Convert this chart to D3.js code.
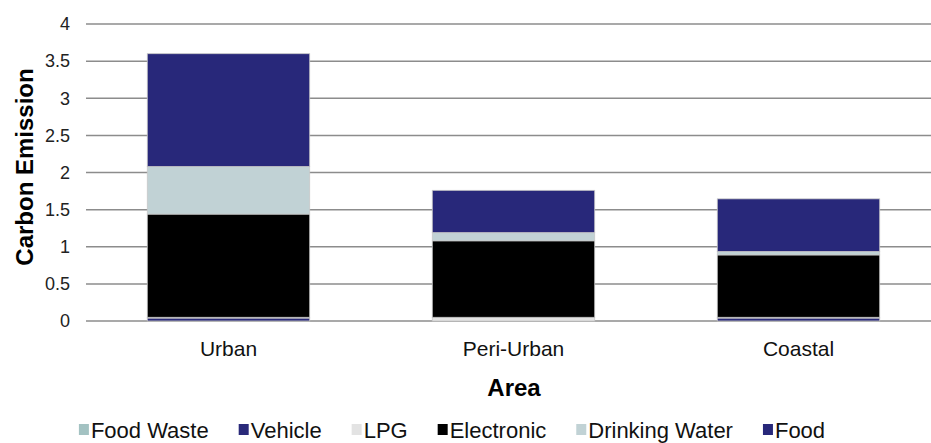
<!DOCTYPE html>
<html lang="en">
<head>
<meta charset="UTF-8"/>
<script src="https://d3js.org/d3.v7.min.js"></script>
<style>
  body { margin: 0; background: #fff; }
  svg { display: block; font-family: "Liberation Sans", Arial, sans-serif; }
</style>
</head>
<body>
<script type="text/javascript">
// values
var areas  = ["Urban", "Peri-Urban", "Coastal"];
var series = ["Food Waste", "Vehicle", "LPG", "Electronic", "Drinking Water", "Food"];
var colors = ["#a3c2c2", "#2a2a7a", "#e3e3e3", "#000000", "#c1d2d5", "#28287a"];

var foodWaste     = [0.00, 0.00, 0.00];
var vehicle       = [0.04, 0.00, 0.04];
var lpg           = [0.01, 0.05, 0.01];
var electronic    = [1.39, 1.03, 0.84];
var drinkingWater = [0.64, 0.11, 0.045];
var food          = [1.52, 0.57, 0.71];

var yTicks = [0, 0.5, 1, 1.5, 2, 2.5, 3, 3.5, 4];

var w = 931, h = 443;

// build rows for d3.stack
var values = [foodWaste, vehicle, lpg, electronic, drinkingWater, food];
var rows = areas.map(function(a, i) {
    var r = { area: a };
    series.forEach(function(s, j) { r[s] = values[j][i]; });
    return r;
});

var stack = d3.stack().keys(series);
var layers = stack(rows);

var xScale = d3.scaleBand()
               .domain(areas)
               .range([86, 941])
               .paddingInner(0.43)
               .paddingOuter(0.215);

var yScale = d3.scaleLinear()
               .domain([0, 4])
               .range([321, 24]);

var svg = d3.select("body")
            .append("svg")
            .attr("width", w)
            .attr("height", h);

// gridlines
svg.append("g")
   .selectAll("line")
   .data(yTicks)
   .enter()
   .append("line")
   .attr("x1", 86)
   .attr("x2", w)
   .attr("y1", function(d) { return yScale(d); })
   .attr("y2", function(d) { return yScale(d); })
   .attr("stroke", "#8c8c8c")
   .attr("stroke-width", 1.5);

// y labels
var yAxis = d3.axisLeft(yScale)
              .tickValues(yTicks)
              .tickSize(0)
              .tickPadding(16)
              .tickFormat(function(d) { return d; });

var yG = svg.append("g")
            .attr("transform", "translate(86,0)")
            .call(yAxis);
yG.select(".domain").remove();
yG.selectAll("text")
  .attr("font-size", 18)
  .attr("font-family", "Liberation Sans, Arial, sans-serif")
  .attr("fill", "#222");

// bars
svg.append("g")
   .selectAll("g")
   .data(layers)
   .enter()
   .append("g")
   .attr("fill", function(d, i) { return colors[i]; })
   .selectAll("rect")
   .data(function(d) { return d; })
   .enter()
   .append("rect")
   .attr("x", function(d) { return xScale(d.data.area); })
   .attr("width", xScale.bandwidth())
   .attr("y", function(d) { return yScale(d[1]); })
   .attr("height", function(d) { return yScale(d[0]) - yScale(d[1]); })
   .attr("stroke", "#c8c8c8")
   .attr("stroke-width", function(d) { return (d[1] - d[0]) > 0 ? 0.8 : 0; });

// x labels
var xAxis = d3.axisBottom(xScale).tickSize(0).tickPadding(0);
var xG = svg.append("g")
            .attr("transform", "translate(0,341)")
            .call(xAxis);
xG.select(".domain").remove();
xG.selectAll("text")
  .attr("font-size", 21)
  .attr("font-family", "Liberation Sans, Arial, sans-serif")
  .attr("fill", "#111");

// axis titles
svg.append("text")
   .attr("x", 514)
   .attr("y", 396)
   .attr("text-anchor", "middle")
   .attr("font-size", 24)
   .attr("font-weight", "bold")
   .text("Area");

svg.append("text")
   .attr("transform", "translate(33,167) rotate(-90)")
   .attr("text-anchor", "middle")
   .attr("font-size", 24)
   .attr("font-weight", "bold")
   .text("Carbon Emission");

// legend
var legend = svg.append("g");
var lx = 0;
series.forEach(function(s, i) {
    var g = legend.append("g").attr("transform", "translate(" + lx + ",0)");
    g.append("rect")
     .attr("x", 0).attr("y", -14)
     .attr("width", 10).attr("height", 11)
     .attr("fill", colors[i]);
    var t = g.append("text")
             .attr("x", 12)
             .attr("y", 0)
             .attr("font-size", 22)
             .attr("fill", "#111")
             .text(s);
    lx += 12 + t.node().getComputedTextLength() + 30;
});
var legendW = lx - 30;
legend.attr("transform", "translate(" + (452 - legendW / 2) + ",438)");
</script>
</body>
</html>
